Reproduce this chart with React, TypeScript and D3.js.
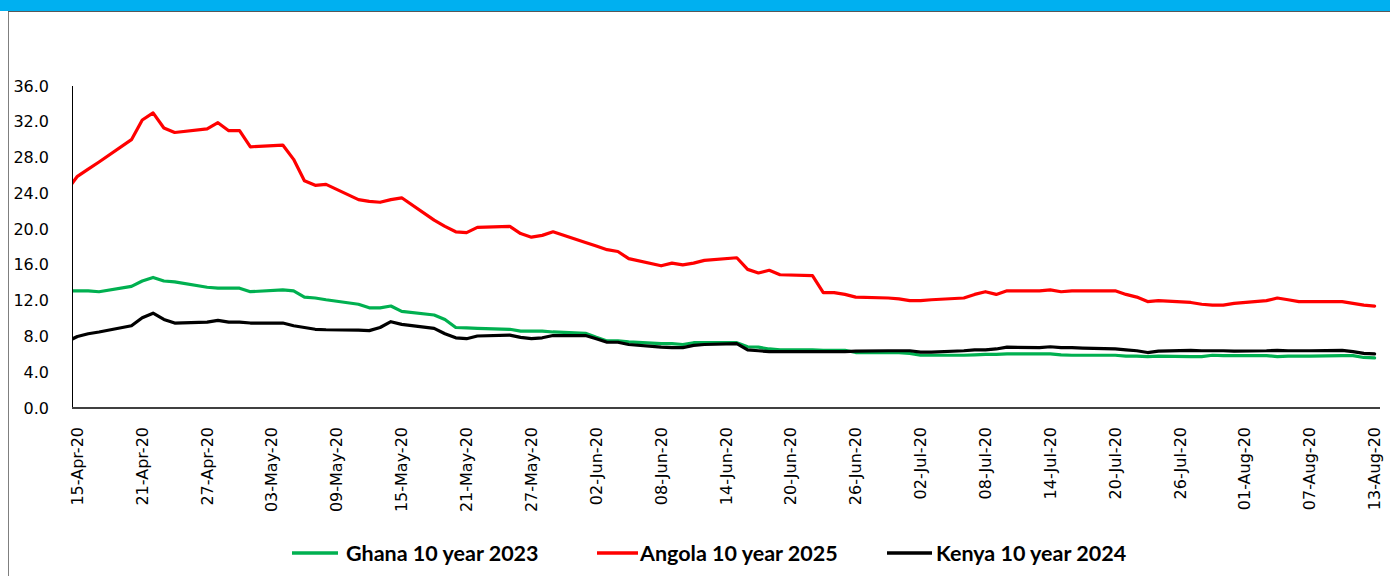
import React from "react";
import * as d3 from "d3";

const dates = [
  "14-Apr-20","15-Apr-20","16-Apr-20","17-Apr-20","20-Apr-20","21-Apr-20","22-Apr-20","23-Apr-20","24-Apr-20","27-Apr-20","28-Apr-20","29-Apr-20","30-Apr-20",
  "01-May-20","04-May-20","05-May-20","06-May-20","07-May-20","08-May-20","11-May-20","12-May-20","13-May-20","14-May-20","15-May-20","18-May-20","19-May-20","20-May-20","21-May-20","22-May-20","25-May-20","26-May-20","27-May-20","28-May-20","29-May-20",
  "01-Jun-20","02-Jun-20","03-Jun-20","04-Jun-20","05-Jun-20","08-Jun-20","09-Jun-20","10-Jun-20","11-Jun-20","12-Jun-20","15-Jun-20","16-Jun-20","17-Jun-20","18-Jun-20","19-Jun-20","22-Jun-20","23-Jun-20","24-Jun-20","25-Jun-20","26-Jun-20","29-Jun-20","30-Jun-20",
  "01-Jul-20","02-Jul-20","03-Jul-20","06-Jul-20","07-Jul-20","08-Jul-20","09-Jul-20","10-Jul-20","13-Jul-20","14-Jul-20","15-Jul-20","16-Jul-20","17-Jul-20","20-Jul-20","21-Jul-20","22-Jul-20","23-Jul-20","24-Jul-20","27-Jul-20","28-Jul-20","29-Jul-20","30-Jul-20","31-Jul-20",
  "03-Aug-20","04-Aug-20","05-Aug-20","06-Aug-20","07-Aug-20","10-Aug-20","11-Aug-20","12-Aug-20","13-Aug-20",
];

const ghana = [
  13.1,13.1,13.1,13.0,13.6,14.2,14.6,14.2,14.1,13.5,13.4,13.4,13.4,
  13.0,13.2,13.1,12.4,12.3,12.1,11.6,11.2,11.2,11.4,10.8,10.4,9.9,9.0,8.95,8.9,8.8,8.6,8.6,8.6,8.5,
  8.35,7.9,7.5,7.5,7.4,7.2,7.2,7.1,7.3,7.3,7.3,6.85,6.8,6.6,6.5,6.5,6.45,6.45,6.45,6.2,6.2,6.2,
  6.1,5.9,5.9,5.9,5.95,6.0,6.0,6.05,6.05,6.05,5.95,5.9,5.9,5.9,5.8,5.8,5.75,5.8,5.75,5.75,5.9,5.85,5.85,
  5.85,5.75,5.8,5.8,5.8,5.85,5.85,5.65,5.6,
];

const angola = [
  24.3,25.9,26.7,27.5,30.0,32.2,33.0,31.3,30.8,31.2,31.9,31.0,31.0,
  29.2,29.4,27.8,25.4,24.9,25.0,23.3,23.1,23.0,23.3,23.5,21.0,20.3,19.7,19.6,20.2,20.3,19.5,19.1,19.3,19.7,
  18.5,18.1,17.7,17.5,16.7,15.9,16.2,16.0,16.2,16.5,16.8,15.5,15.1,15.4,14.9,14.8,12.9,12.9,12.7,12.4,12.3,12.2,
  12.0,12.0,12.1,12.3,12.7,13.0,12.7,13.1,13.1,13.2,13.0,13.1,13.1,13.1,12.7,12.4,11.9,12.0,11.8,11.6,11.5,11.5,11.7,
  12.0,12.3,12.1,11.9,11.9,11.9,11.7,11.5,11.4,
];

const kenya = [
  7.4,8.0,8.3,8.5,9.2,10.1,10.6,9.9,9.5,9.6,9.8,9.6,9.6,
  9.5,9.5,9.2,9.0,8.8,8.75,8.7,8.65,9.0,9.65,9.35,8.9,8.3,7.85,7.75,8.05,8.15,7.9,7.75,7.85,8.1,
  8.1,7.75,7.35,7.35,7.1,6.8,6.75,6.75,7.0,7.1,7.2,6.5,6.4,6.3,6.3,6.3,6.3,6.3,6.3,6.35,6.4,6.4,
  6.4,6.25,6.25,6.4,6.5,6.5,6.6,6.8,6.75,6.85,6.75,6.75,6.7,6.6,6.5,6.4,6.2,6.35,6.45,6.4,6.4,6.4,6.35,
  6.4,6.45,6.4,6.4,6.4,6.45,6.3,6.1,6.05,
];

const tickLabels = [
  "15-Apr-20","21-Apr-20","27-Apr-20","03-May-20","09-May-20","15-May-20","21-May-20","27-May-20","02-Jun-20","08-Jun-20","14-Jun-20",
  "20-Jun-20","26-Jun-20","02-Jul-20","08-Jul-20","14-Jul-20","20-Jul-20","26-Jul-20","01-Aug-20","07-Aug-20","13-Aug-20",
];

const yTicks = [0, 4, 8, 12, 16, 20, 24, 28, 32, 36];

const seriesNames = ["Ghana 10 year 2023", "Angola 10 year 2025", "Kenya 10 year 2024"];
const seriesColors = ["#00B050", "#FF0000", "#000000"];

export default function App() {
  const W = 1390, H = 576;
  const parse = d3.timeParse("%d-%b-%y");
  const DAY = 864e5;
  const left = 72, right = 1380, top = 86, bottom = 408;
  const x = d3.scaleTime()
    .domain([new Date(+parse(tickLabels[0])! - DAY / 2), new Date(+parse(tickLabels[tickLabels.length - 1])! + DAY / 2)])
    .range([left, right]);
  const y = d3.scaleLinear().domain([0, 36]).range([bottom, top]);
  const parsed = dates.map((d) => parse(d)!);
  const line = d3.line<number>()
    .x((_, i) => x(parsed[i]))
    .y((v) => y(v));
  const allSeries = [ghana, angola, kenya];

  const legendItems = [
    { lx1: 292, lx2: 338, tx: 346 },
    { lx1: 597, lx2: 638, tx: 640 },
    { lx1: 887, lx2: 932, tx: 936 },
  ];
  const legendY = 553;

  return (
    <svg width={W} height={H} style={{ position: "absolute", left: 0, top: 0, background: "#fff" }}>
      <defs>
        <clipPath id="plotClip">
          <rect x={left} y={top - 10} width={right - left} height={bottom - top + 10} />
        </clipPath>
      </defs>
      <rect x={0} y={0} width={W} height={11} fill="#00B0F0" />
      <line x1={8.5} y1={11} x2={8.5} y2={H} stroke="#7f7f7f" strokeWidth={1} />
      <line x1={8} y1={11.5} x2={W} y2={11.5} stroke="#595959" strokeWidth={1} />

      {yTicks.map((t) => (
        <text key={t} x={49} y={y(t)} textAnchor="end" dominantBaseline="central"
          fontFamily="DejaVu Sans" fontSize={16} fill="#000">{t.toFixed(1)}</text>
      ))}

      {tickLabels.map((t) => {
        const px = x(parse(t)!);
        return (
          <text key={t} transform={`translate(${px},${427}) rotate(-90)`} textAnchor="end" dominantBaseline="central"
            fontFamily="DejaVu Sans" fontSize={16} fill="#000">{t}</text>
        );
      })}

      <g clipPath="url(#plotClip)">
        {allSeries.map((s, i) => (
          <path key={i} d={line(s) || ""} fill="none" stroke={seriesColors[i]} strokeWidth={3.2}
            strokeLinejoin="round" strokeLinecap="round" />
        ))}
      </g>

      <line x1={left + 0.5} y1={top} x2={left + 0.5} y2={bottom} stroke="#000" strokeWidth={1} />
      <line x1={left} y1={bottom} x2={right} y2={bottom} stroke="#404040" strokeWidth={2} />

      {seriesNames.map((n, i) => (
        <g key={n}>
          <line x1={legendItems[i].lx1} y1={legendY} x2={legendItems[i].lx2} y2={legendY}
            stroke={seriesColors[i]} strokeWidth={3.3} />
          <text x={legendItems[i].tx} y={legendY} dominantBaseline="central"
            fontFamily="Lato" fontWeight={700} fontSize={21.5} fill="#000">{n}</text>
        </g>
      ))}
    </svg>
  );
}
